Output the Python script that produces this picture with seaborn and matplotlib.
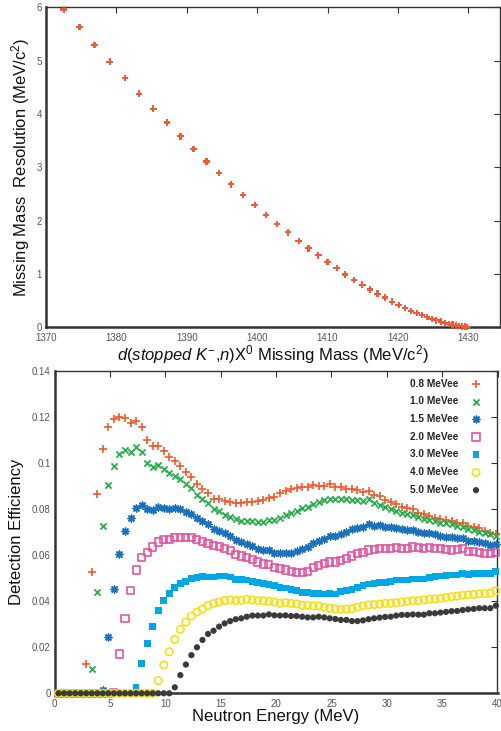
import numpy as np
import pandas as pd
import matplotlib
matplotlib.use("Agg")
import matplotlib.pyplot as plt
import seaborn as sns

# ---------------- data: top panel ----------------
missing_mass = [1372.5, 1374.75, 1376.9, 1379.05, 1381.2, 1383.2, 1385.25, 1387.2, 1389.1,
                1390.95, 1392.8, 1394.6, 1396.3, 1398.0, 1399.65, 1401.25, 1402.85, 1404.4,
                1405.9, 1407.3, 1408.7, 1410.0, 1411.3, 1412.5, 1413.75, 1414.95, 1416.0,
                1417.1, 1418.15, 1419.15, 1420.1, 1421.0, 1421.85, 1422.65, 1423.4, 1424.15,
                1424.8, 1425.45, 1426.1, 1426.65, 1427.2, 1427.75, 1428.2, 1428.7, 1429.1,
                1429.5, 1429.85]
resolution = [5.96, 5.63, 5.29, 4.98, 4.67, 4.38, 4.10, 3.84, 3.58, 3.34, 3.11, 2.89, 2.68,
              2.48, 2.29, 2.11, 1.94, 1.78, 1.62, 1.48, 1.35, 1.22, 1.11, 0.99, 0.89, 0.80,
              0.71, 0.63, 0.56, 0.48, 0.42, 0.36, 0.31, 0.27, 0.23, 0.19, 0.16, 0.13, 0.105,
              0.08, 0.062, 0.048, 0.036, 0.025, 0.018, 0.012, 0.008]

# ---------------- data: bottom panel ----------------
energy = np.arange(80) * 0.5 + 0.35  # MeV bin positions

eff_08 = [0, 0, 0, 0, 0,
          0.0128, 0.0528, 0.0867, 0.1061, 0.1157, 0.1193, 0.1203, 0.1197, 0.1174, 0.1184, 0.1157,
          0.1101, 0.1077, 0.1077, 0.1052, 0.1026, 0.1010, 0.0987, 0.0964, 0.0941, 0.0912, 0.0890,
          0.0870, 0.0846, 0.0843, 0.0836, 0.0833, 0.0828, 0.0826, 0.0830, 0.0833, 0.0838, 0.0839,
          0.0849, 0.0855, 0.0870, 0.0880, 0.0887, 0.0891, 0.0896, 0.0896, 0.0904, 0.0901, 0.0903,
          0.0909, 0.0899, 0.0896,
          0.0890, 0.0887, 0.0884, 0.0877, 0.0878, 0.0862, 0.0858, 0.0841, 0.0832, 0.0825, 0.0812,
          0.0804, 0.0800, 0.0786, 0.0778, 0.0771, 0.0764, 0.0758, 0.0754, 0.0748, 0.0742, 0.0742,
          0.0728, 0.0722, 0.0717, 0.0707, 0.0696, 0.0694]
eff_10 = [0, 0, 0, 0, 0, 0,
          0.0104, 0.0442, 0.0729, 0.0906, 0.0988, 0.1039, 0.1058, 0.1048, 0.1070, 0.1051, 0.1003,
          0.0986, 0.0993, 0.0977, 0.0957, 0.0945, 0.0930, 0.0910, 0.0891, 0.0864, 0.0846,
          0.0826, 0.0801, 0.0793, 0.0775, 0.0765, 0.0759, 0.0751, 0.0749, 0.0751, 0.0746, 0.0743,
          0.0754, 0.0752, 0.0762, 0.0774, 0.0784, 0.0794, 0.0804, 0.0812, 0.0825, 0.0830, 0.0839,
          0.0846, 0.0843, 0.0843,
          0.0843, 0.0841, 0.0841, 0.0836, 0.0843, 0.0829, 0.0819, 0.0812, 0.0803, 0.0794, 0.0786,
          0.0780, 0.0775, 0.0768, 0.0759, 0.0754, 0.0748, 0.0742, 0.0739, 0.0735, 0.0729, 0.0722,
          0.0713, 0.0710, 0.0703, 0.0699, 0.0693, 0.0684]
eff_15 = [0, 0, 0, 0, 0, 0, 0, 0,
          0.0013, 0.0246, 0.0452, 0.0607, 0.0704, 0.0761, 0.0807, 0.0820, 0.0800, 0.0796, 0.0810,
          0.0807, 0.0800, 0.0806, 0.0800, 0.0790, 0.0780, 0.0762, 0.0750,
          0.0735, 0.0714, 0.0707, 0.0696, 0.0686, 0.0668, 0.0658, 0.0651, 0.0639, 0.0629, 0.0623,
          0.0623, 0.0612, 0.0609, 0.0609, 0.0612, 0.0620, 0.0628, 0.0635, 0.0652, 0.0661, 0.0671,
          0.0683, 0.0686, 0.0693,
          0.0702, 0.0713, 0.0720, 0.0725, 0.0735, 0.0729, 0.0730, 0.0722, 0.0722, 0.0720, 0.0713,
          0.0710, 0.0710, 0.0701, 0.0699, 0.0696, 0.0691, 0.0686, 0.0681, 0.0678, 0.0674, 0.0677,
          0.0664, 0.0662, 0.0658, 0.0652, 0.0643, 0.0648]
eff_20 = [0, 0, 0, 0, 0, 0, 0, 0, 0, 0,
          0.0003, 0.0171, 0.0326, 0.0448, 0.0536, 0.0590, 0.0614, 0.0636, 0.0658, 0.0667, 0.0670,
          0.0678, 0.0678, 0.0678, 0.0678, 0.0670, 0.0661,
          0.0652, 0.0641, 0.0638, 0.0628, 0.0619, 0.0604, 0.0597, 0.0590, 0.0580, 0.0571, 0.0562,
          0.0561, 0.0548, 0.0543, 0.0536, 0.0528, 0.0526, 0.0526, 0.0528, 0.0546, 0.0554, 0.0565,
          0.0571, 0.0571, 0.0577,
          0.0587, 0.0597, 0.0606, 0.0613, 0.0623, 0.0626, 0.0630, 0.0630, 0.0630, 0.0633, 0.0630,
          0.0630, 0.0636, 0.0632, 0.0629, 0.0633, 0.0630, 0.0628, 0.0626, 0.0623, 0.0626, 0.0630,
          0.0616, 0.0616, 0.0612, 0.0609, 0.0606, 0.0612]
eff_30 = [0, 0, 0, 0, 0, 0, 0, 0, 0, 0, 0, 0, 0, 0,
          0.0026, 0.0130, 0.0217, 0.0292, 0.0361, 0.0403, 0.0435, 0.0461, 0.0478, 0.0487, 0.0500,
          0.0504, 0.0509,
          0.0506, 0.0506, 0.0510, 0.0510, 0.0506, 0.0496, 0.0496, 0.0493, 0.0487, 0.0481, 0.0478,
          0.0474, 0.0467, 0.0461, 0.0458, 0.0452, 0.0446, 0.0439, 0.0438, 0.0435, 0.0435, 0.0432,
          0.0435, 0.0432, 0.0441,
          0.0446, 0.0452, 0.0461, 0.0467, 0.0475, 0.0478, 0.0483, 0.0483, 0.0486, 0.0493, 0.0493,
          0.0493, 0.0497, 0.0497, 0.0497, 0.0504, 0.0507, 0.0510, 0.0513, 0.0514, 0.0514, 0.0522,
          0.0517, 0.0522, 0.0522, 0.0522, 0.0522, 0.0530]
eff_40 = [0, 0, 0, 0, 0, 0, 0, 0, 0, 0, 0, 0, 0, 0, 0, 0, 0, 0,
          0.0055, 0.0123, 0.0181, 0.0234, 0.0278, 0.0310, 0.0336, 0.0353, 0.0366,
          0.0381, 0.0391, 0.0397, 0.0403, 0.0406, 0.0403, 0.0404, 0.0409, 0.0406, 0.0403, 0.0403,
          0.0400, 0.0397, 0.0391, 0.0394, 0.0391, 0.0388, 0.0383, 0.0383, 0.0380, 0.0380, 0.0374,
          0.0370, 0.0367, 0.0365,
          0.0366, 0.0368, 0.0374, 0.0380, 0.0384, 0.0386, 0.0388, 0.0391, 0.0391, 0.0394, 0.0397,
          0.0400, 0.0403, 0.0403, 0.0406, 0.0409, 0.0410, 0.0413, 0.0416, 0.0420, 0.0423, 0.0426,
          0.0428, 0.0430, 0.0432, 0.0433, 0.0435, 0.0446]
eff_50 = [0, 0, 0, 0, 0, 0, 0, 0, 0, 0, 0, 0, 0, 0, 0, 0, 0, 0, 0, 0, 0,
          0.0026, 0.0079, 0.0125, 0.0166, 0.0200, 0.0232,
          0.0258, 0.0272, 0.0290, 0.0304, 0.0314, 0.0322, 0.0326, 0.0333, 0.0338, 0.0338, 0.0338,
          0.0343, 0.0339, 0.0338, 0.0339, 0.0336, 0.0336, 0.0333, 0.0330, 0.0330, 0.0333, 0.0330,
          0.0326, 0.0323, 0.0319,
          0.0319, 0.0314, 0.0314, 0.0317, 0.0322, 0.0326, 0.0329, 0.0332, 0.0333, 0.0338, 0.0341,
          0.0341, 0.0343, 0.0342, 0.0342, 0.0348, 0.0348, 0.0351, 0.0354, 0.0357, 0.0358, 0.0362,
          0.0365, 0.0367, 0.0370, 0.0370, 0.0370, 0.0381]

series_labels = ["0.8 MeVee", "1.0 MeVee", "1.5 MeVee", "2.0 MeVee",
                 "3.0 MeVee", "4.0 MeVee", "5.0 MeVee"]
series_values = [eff_08, eff_10, eff_15, eff_20, eff_30, eff_40, eff_50]

x_ticks_top = [1370, 1380, 1390, 1400, 1410, 1420, 1430]
y_ticks_top = [0, 1, 2, 3, 4, 5, 6]
x_ticks_bot = [0, 5, 10, 15, 20, 25, 30, 35, 40]
y_ticks_bot = [0, 0.02, 0.04, 0.06, 0.08, 0.1, 0.12, 0.14]
y_ticklabels_bot = ["0", "0.02", "0.04", "0.06", "0.08", "0.1", "0.12", "0.14"]

# ---------------- styling ----------------
sns.set_theme(style="white")
plt.rcParams['font.family'] = ['Liberation Sans', 'DejaVu Sans']
plt.rcParams['mathtext.fontset'] = 'custom'
plt.rcParams['mathtext.rm'] = 'Liberation Sans'
plt.rcParams['mathtext.it'] = 'Liberation Sans:italic'
plt.rcParams['mathtext.bf'] = 'Liberation Sans:bold'

W, H = 502, 731
fig = plt.figure(figsize=(W / 100, H / 100), dpi=100)

def px_axes(l, r, t, b):
    return fig.add_axes([l / W, 1 - b / H, (r - l) / W, (b - t) / H])

spine_col = "#333333"
tick_col = "#555555"

def style_axes(ax):
    for side in ["left", "bottom", "top", "right"]:
        ax.spines[side].set_color(spine_col)
        ax.spines[side].set_linewidth(1.0)
    ax.spines["left"].set_linewidth(1.8)
    ax.spines["bottom"].set_linewidth(1.8)
    ax.tick_params(direction="in", length=4, width=0.8, colors=spine_col,
                   top=True, right=True, labelsize=7, labelcolor=tick_col)
    ax.tick_params(axis="x", pad=4)
    ax.tick_params(axis="y", pad=3)

# ---------------- top panel ----------------
ax1 = px_axes(46, 500, 7.3, 327.3)
df_top = pd.DataFrame({"mass": missing_mass, "res": resolution})
sns.scatterplot(data=df_top, x="mass", y="res", ax=ax1, marker="P", s=22,
                color="#f15a36", edgecolor="none", linewidth=0, clip_on=False, zorder=5)
ax1.set_xlim(1370, 1434.5)
ax1.set_ylim(0, 6)
ax1.set_xticks(x_ticks_top)
ax1.set_yticks(y_ticks_top)
style_axes(ax1)
ax1.set_xlabel(r"$d$($\mathit{stopped}$ $K^{-}$,$n$)X$^{0}$ Missing Mass (MeV/c$^{2}$)",
               fontsize=12, labelpad=0, color="#111111")
ax1.set_ylabel(r"Missing Mass  Resolution (MeV/c$^{2}$)", fontsize=12, labelpad=3,
               color="#111111")

# ---------------- bottom panel ----------------
ax2 = px_axes(54.7, 497.5, 371.3, 693.3)
styles = [
    dict(marker="+", s=28, color="#f15a2b", linewidth=1.2),
    dict(marker="x", s=20, color="#27b04a", linewidth=1.3),
    dict(marker=(8, 2, 0), s=24, color="#1a72bd", linewidth=1.1),
    dict(marker="s", s=26, facecolor="none", edgecolor="#e0559e", linewidth=1.2),
    dict(marker="s", s=24, color="#00a7e4", edgecolor="none", linewidth=0),
    dict(marker="o", s=28, facecolor="none", edgecolor="#f6df1a", linewidth=1.2),
    dict(marker="o", s=20, color="#3a3a3a", edgecolor="none", linewidth=0),
]
for lab, vals, st in zip(series_labels, series_values, styles):
    d = pd.DataFrame({"E": energy, "eff": vals})
    sns.scatterplot(data=d, x="E", y="eff", ax=ax2, label=lab, clip_on=False,
                    zorder=5, legend=False, **st)
ax2.set_xlim(0, 40)
ax2.set_ylim(0, 0.14)
ax2.set_xticks(x_ticks_bot)
ax2.set_yticks(y_ticks_bot)
ax2.set_yticklabels(y_ticklabels_bot)
style_axes(ax2)
ax2.set_xlabel("Neutron Energy (MeV)", fontsize=12, labelpad=0, color="#111111")
ax2.set_ylabel("Detection Efficiency", fontsize=12, labelpad=5.5, color="#111111")

h, l = ax2.get_legend_handles_labels()
leg = ax2.legend(h, l, loc="upper right", frameon=False, markerfirst=False,
                 prop={"weight": "bold", "size": 7.3}, labelspacing=0.76,
                 handlelength=1.0, handletextpad=1.2, borderaxespad=0.0,
                 bbox_to_anchor=(0.972, 0.99))

fig.savefig("out.png", dpi=100)
